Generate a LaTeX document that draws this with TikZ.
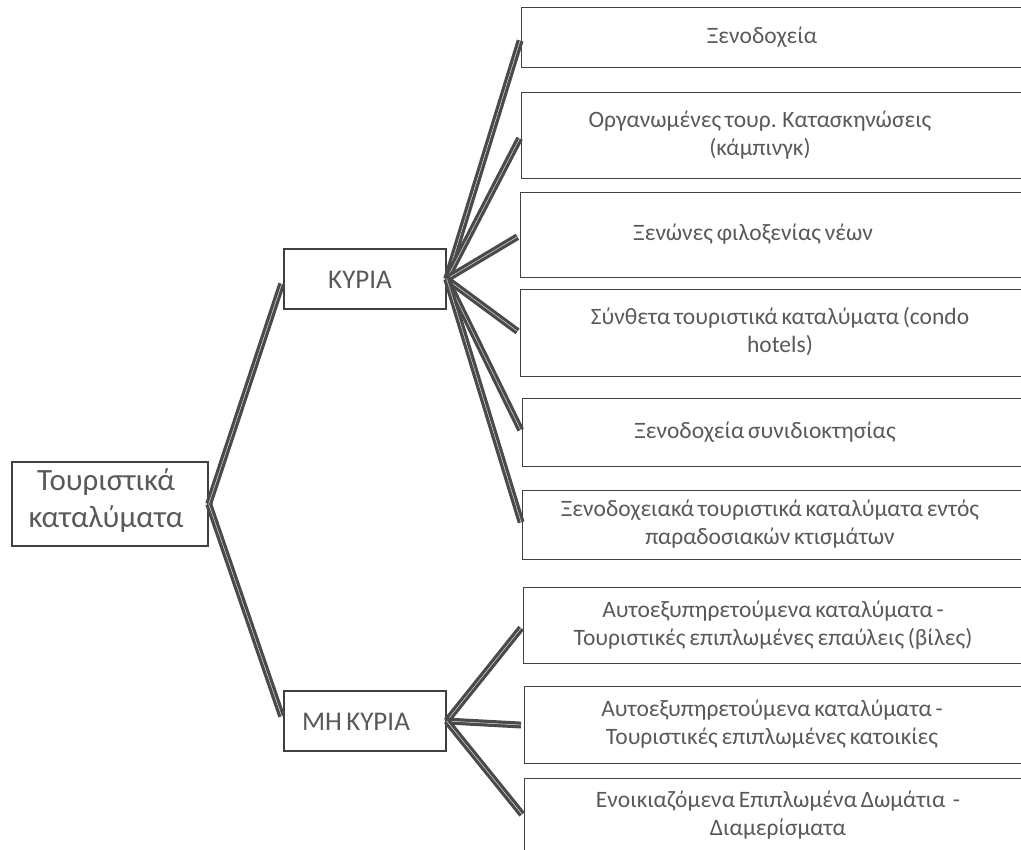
\documentclass[tikz,border=0pt]{standalone}
\usepackage{fontspec}
\setmainfont{Carlito}[WordSpace=0.7]
\usetikzlibrary{positioning}

\definecolor{textogris}{HTML}{595959}
\definecolor{bordagris}{HTML}{404040}
\definecolor{ramogris}{HTML}{4A4A4A}

\tikzset{
  caixa/.style={draw=bordagris, line width=1.4pt, rectangle, inner sep=0pt},
  folha/.style={caixa, anchor=north west, minimum width=520pt},
  texto/.style={text=textogris, align=center, font=\fontsize{23.5}{28}\selectfont, inner sep=0pt},
  textogr/.style={texto, font=\fontsize{27}{31}\selectfont},
  ramo/.style={draw=ramogris, double=gray!25, double distance=0.5pt, line width=3.2pt, shorten >=3pt}
}

\begin{document}
\begin{tikzpicture}[x=1pt,y=-1pt]
\useasboundingbox (0,0) rectangle (1021,850);
\clip (0,0) rectangle (1021,850);

% raiz e ramos
\node[caixa, minimum width=196pt, minimum height=84pt] (tur) at (110,504) {};
\node[textogr, font=\fontsize{31}{37}\selectfont] at (106,501) {Τουριστικά\\καταλύματα};
\node[caixa, minimum width=162pt, minimum height=60pt] (kyp) at (365,279) {};
\node[textogr] at (360,280) {ΚΥΡΙΑ};
\node[caixa, minimum width=162pt, minimum height=60pt] (mkyp) at (365,721) {};
\node[textogr] at (356,722) {ΜΗ ΚΥΡΙΑ};

% caixas da direita
\node[folha, minimum height=60pt] (h1) at (521,7) {};
\node[folha, minimum height=86pt] (h2) at (521,92) {};
\node[folha, minimum height=85pt] (h3) at (520,192) {};
\node[folha, minimum height=87pt] (h4) at (520,289) {};
\node[folha, minimum height=68pt] (h5) at (522,398) {};
\node[folha, minimum height=69pt] (h6) at (522,490) {};
\node[folha, minimum height=76pt] (m1) at (523,587) {};
\node[folha, minimum height=77pt] (m2) at (524,686) {};
\node[folha, minimum height=76pt] (m3) at (524,778) {};

% textos
\node[texto] (t1) at (762,37) {Ξενοδοχεία};
\node[texto] (t2) at (760,135) {Οργανωμένες τουρ. Κατασκηνώσεις\\(κάμπινγκ)};
\node[texto] (t3) at (753,234) {Ξενώνες φιλοξενίας νέων};
\node[texto] (t4) at (780,332) {Σύνθετα τουριστικά καταλύματα (condo\\hotels)};
\node[texto] (t5) at (765,432) {Ξενοδοχεία συνιδιοκτησίας};
\node[texto] (t6) at (770,524) {Ξενοδοχειακά τουριστικά καταλύματα εντός\\παραδοσιακών κτισμάτων};
\node[texto] (t7) at (773,625) {Αυτοεξυπηρετούμενα καταλύματα -\\Τουριστικές επιπλωμένες επαύλεις (βίλες)};
\node[texto] (t8) at (772,724) {Αυτοεξυπηρετούμενα καταλύματα -\\Τουριστικές επιπλωμένες κατοικίες};
\node[texto] (t9) at (778,815) {Ενοικιαζόμενα Επιπλωμένα Δωμάτια \ -\\Διαμερίσματα};

% ligacoes
\draw[ramo, shorten >=5pt] (tur.east) -- (kyp.west);
\draw[ramo, shorten >=5pt] (tur.east) -- (mkyp.west);
\foreach \f in {h1,h2,h3,h4,h5,h6}
  \draw[ramo] (kyp.east) -- (\f.west);
\foreach \f in {m1,m2,m3}
  \draw[ramo] (mkyp.east) -- (\f.west);

\end{tikzpicture}
\end{document}
